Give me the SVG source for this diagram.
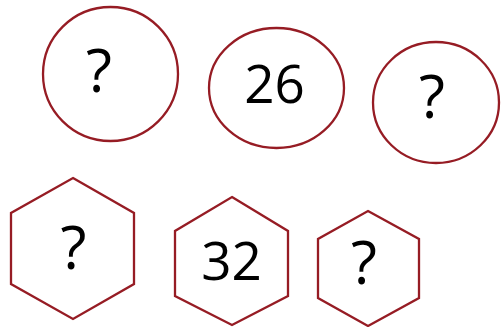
<svg xmlns="http://www.w3.org/2000/svg" width="501" height="327" viewBox="0 0 501 327">
<style>
.s{fill:#fff;stroke:#961c24;stroke-width:2.3}
.q{font-family:"Open Sans","Noto Sans",sans-serif;font-size:60px;font-weight:500;fill:#000;text-anchor:middle}
.n{font-family:"Open Sans","Noto Sans",sans-serif;font-size:53px;fill:#000;text-anchor:middle}
</style>
<rect width="501" height="327" fill="#fff"/>
<g id="c1"><ellipse class="s" cx="110.5" cy="74" rx="67.5" ry="67"/><text class="q" x="99" y="92">?</text></g>
<g id="c2"><ellipse class="s" cx="276.5" cy="88" rx="67.5" ry="60"/><text class="n" x="274.5" y="103">26</text></g>
<g id="c3"><ellipse class="s" cx="436" cy="102.5" rx="63" ry="60.5"/><text class="q" x="432" y="118">?</text></g>
<g id="h1"><polygon class="s" points="73,178 134,213 134,284 73,319 11,284 11,213"/><text class="q" x="73.5" y="269">?</text></g>
<g id="h2"><polygon class="s" points="232,197 288,231 288,296 232,325 175,296 175,231"/><text class="n" x="231.5" y="280">32</text></g>
<g id="h3"><polygon class="s" points="368,211 419,239 419,298 368,326 318,298 318,239"/><text class="q" x="364" y="284">?</text></g>
<g id="connectors"/>
</svg>
